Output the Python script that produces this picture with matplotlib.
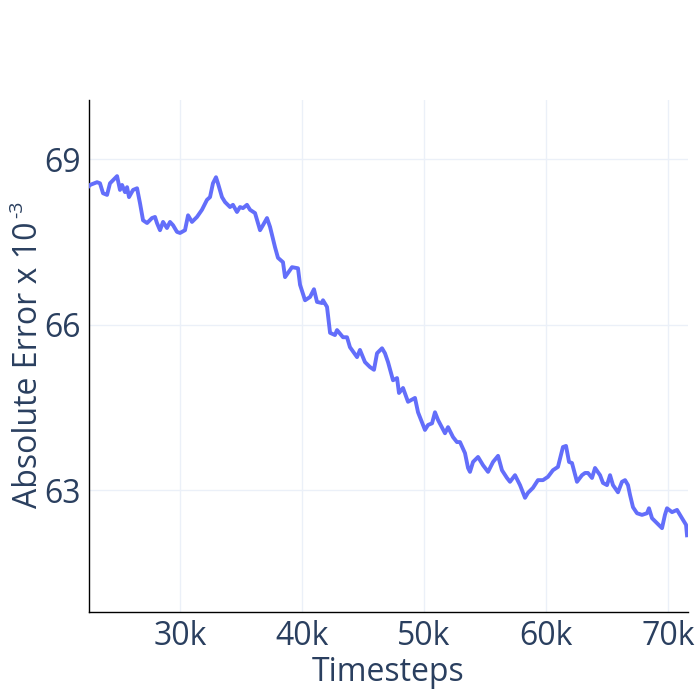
import matplotlib
matplotlib.use("Agg")
import matplotlib.pyplot as plt

plt.rcParams['font.family'] = ['Open Sans', 'DejaVu Sans']

# Timesteps (in thousands)
timesteps_k = [22.54, 22.62, 23.20, 23.44, 23.69, 24.02, 24.26, 24.84, 25.08, 25.25,
               25.49, 25.66, 25.82, 26.15, 26.48, 26.72, 26.97, 27.30, 27.70, 27.95,
               28.11, 28.36, 28.61, 28.93, 29.18, 29.43, 29.75, 30.00, 30.41, 30.66,
               30.98, 31.39, 31.80, 32.21, 32.46, 32.70, 32.95, 33.11, 33.44, 33.69,
               34.10, 34.34, 34.67, 34.92, 35.16, 35.49, 35.74, 36.15, 36.56, 36.80,
               37.13, 37.38, 37.79, 38.03, 38.44, 38.61, 39.18, 39.67, 39.84, 40.25,
               40.66, 40.98, 41.23, 41.64, 41.72, 42.05, 42.30, 42.70, 42.87, 43.36,
               43.69, 43.93, 44.51, 44.75, 45.16, 45.57, 45.90, 46.15, 46.56, 46.80,
               47.05, 47.46, 47.79, 47.95, 48.28, 48.69, 49.26, 49.51, 50.08, 50.33,
               50.66, 50.90, 51.15, 51.72, 51.97, 52.38, 52.70, 52.95, 53.36, 53.61,
               53.77, 54.02, 54.43, 54.84, 55.25, 55.66, 56.07, 56.39, 56.80, 57.05,
               57.46, 57.87, 58.28, 58.52, 58.93, 59.34, 59.75, 60.16, 60.57, 60.98,
               61.39, 61.64, 61.89, 62.13, 62.54, 62.95, 63.20, 63.44, 63.77, 64.02,
               64.43, 64.67, 65.00, 65.25, 65.49, 65.90, 66.23, 66.48, 66.72, 66.89,
               67.13, 67.46, 67.87, 68.28, 68.44, 68.69, 69.10, 69.51, 69.75, 69.92,
               70.33, 70.74, 70.98, 71.23, 71.48, 71.56]

# Absolute error x 10^-3
abs_error = [68.51, 68.53, 68.58, 68.56, 68.38, 68.35, 68.56, 68.69, 68.44, 68.53,
             68.40, 68.49, 68.31, 68.44, 68.47, 68.20, 67.89, 67.84, 67.93, 67.95,
             67.84, 67.71, 67.86, 67.75, 67.86, 67.80, 67.68, 67.66, 67.71, 67.98,
             67.86, 67.95, 68.08, 68.26, 68.31, 68.56, 68.67, 68.56, 68.31, 68.22,
             68.13, 68.17, 68.04, 68.13, 68.11, 68.17, 68.08, 68.02, 67.71, 67.80,
             67.93, 67.77, 67.40, 67.21, 67.13, 66.86, 67.04, 67.02, 66.72, 66.44,
             66.50, 66.64, 66.41, 66.39, 66.44, 66.32, 65.85, 65.81, 65.90, 65.77,
             65.77, 65.59, 65.41, 65.54, 65.32, 65.23, 65.18, 65.48, 65.57, 65.48,
             65.32, 64.99, 65.03, 64.76, 64.85, 64.60, 64.67, 64.41, 64.09, 64.18,
             64.21, 64.41, 64.27, 64.03, 64.14, 63.96, 63.87, 63.87, 63.67, 63.40,
             63.33, 63.51, 63.60, 63.45, 63.33, 63.51, 63.62, 63.36, 63.22, 63.15,
             63.27, 63.09, 62.86, 62.95, 63.04, 63.18, 63.18, 63.24, 63.36, 63.42,
             63.78, 63.80, 63.51, 63.49, 63.15, 63.27, 63.31, 63.31, 63.22, 63.40,
             63.27, 63.13, 63.09, 63.27, 63.09, 62.96, 63.15, 63.18, 63.09, 62.91,
             62.69, 62.58, 62.55, 62.58, 62.67, 62.49, 62.40, 62.31, 62.55, 62.67,
             62.60, 62.64, 62.55, 62.46, 62.37, 62.18]

x_ticks = [30000, 40000, 50000, 60000, 70000]
x_tick_labels = ['30k', '40k', '50k', '60k', '70k']
y_ticks = [63, 66, 69]
y_tick_labels = ['63', '66', '69']
y_title = 'Absolute Error x 10'
y_title_sup = '-3'
x_title = 'Timesteps'

x_vals = [t * 1000 for t in timesteps_k]

W = H = 700
fig = plt.figure(figsize=(7, 7), dpi=100)
ax = fig.add_axes([89/W, 1 - 612/H, (688 - 89)/W, (612 - 100)/H])

text_color = '#2a3f5f'
grid_color = '#ebf0f8'

ax.plot(x_vals, abs_error, color='#636efa', linewidth=2.8, solid_joinstyle='round', zorder=3)

ax.set_xlim(22540, 71640)
ax.set_ylim(60.79, 70.07)
ax.set_xticks(x_ticks)
ax.set_xticklabels(x_tick_labels)
ax.set_yticks(y_ticks)
ax.set_yticklabels(y_tick_labels)
ax.grid(True, color=grid_color, linewidth=1, zorder=0)
ax.tick_params(length=0, labelsize=23, labelcolor=text_color, pad=6)

for s in ['top', 'right']:
    ax.spines[s].set_visible(False)
for s in ['left', 'bottom']:
    ax.spines[s].set_color('black')
    ax.spines[s].set_linewidth(1)

ax.set_xlabel(x_title, fontsize=23, color=text_color, labelpad=2)

# y-axis title with a real superscript (hyphen, as in the reference)
main = fig.text(37/W, 1 - 508/H, y_title, rotation=90, rotation_mode='anchor',
                ha='left', va='baseline', fontsize=23, color=text_color)
fig.canvas.draw()
bb = main.get_window_extent(fig.canvas.get_renderer())
top_px = bb.y1  # display coords (origin bottom)
fig.text(22/W, (top_px + 3)/H, y_title_sup, rotation=90, rotation_mode='anchor',
         ha='left', va='baseline', fontsize=14, color=text_color)

fig.savefig('out.png', dpi=100, facecolor='white')
